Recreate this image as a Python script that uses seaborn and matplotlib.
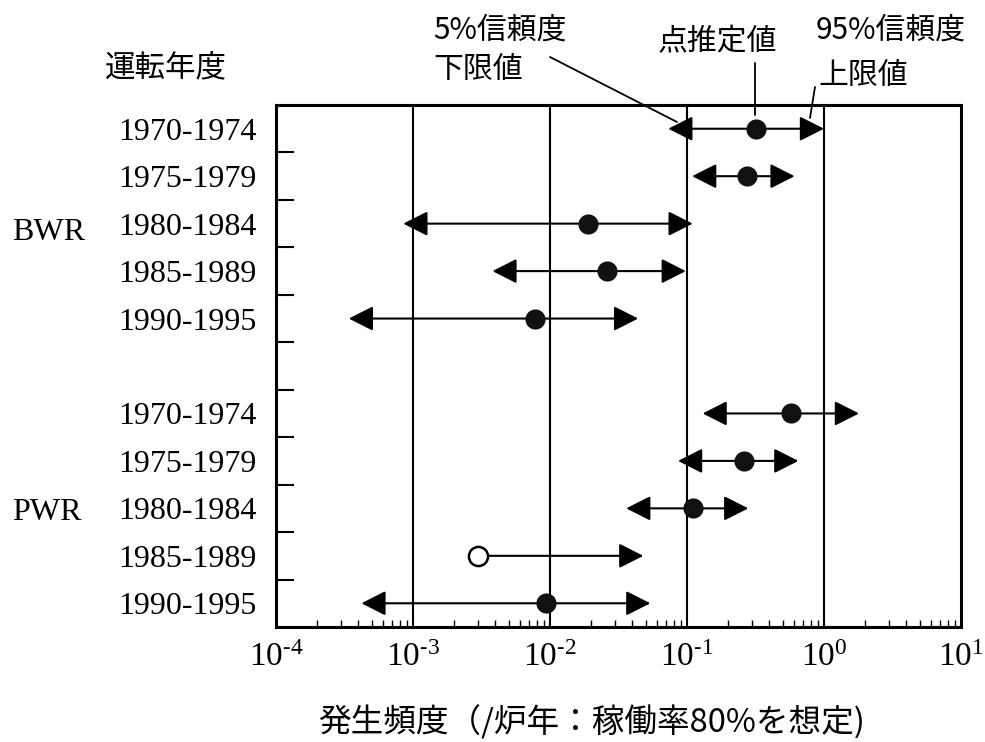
import numpy as np
import pandas as pd
import matplotlib
matplotlib.use("Agg")
import matplotlib.pyplot as plt
from matplotlib.lines import Line2D
from matplotlib.ticker import FixedLocator, LogLocator, NullFormatter
import seaborn as sns

# Operating periods (same for both reactor types)
periods = ["1970-1974", "1975-1979", "1980-1984", "1985-1989", "1990-1995"]

# BWR: 5% lower bound, point estimate, 95% upper bound (/reactor-year)
bwr_lower = [0.073, 0.109, 0.00085, 0.0038, 0.00034]
bwr_point = [0.32, 0.274, 0.019, 0.026, 0.0078]
bwr_upper = [1.0, 0.61, 0.11, 0.098, 0.044]

# PWR: 5% lower bound, point estimate, 95% upper bound (/reactor-year)
pwr_lower = [0.13, 0.086, 0.036, np.nan, 0.00042]
pwr_point = [0.57, 0.26, 0.11, 0.0030, 0.0094]
pwr_upper = [1.8, 0.65, 0.28, 0.048, 0.054]
pwr_open = [False, False, False, True, False]

x_ticks = [1e-4, 1e-3, 1e-2, 1e-1, 1e0, 1e1]
x_tick_labels = [r"$\mathregular{10^{\text{-}4}}$", r"$\mathregular{10^{\text{-}3}}$",
                 r"$\mathregular{10^{\text{-}2}}$", r"$\mathregular{10^{\text{-}1}}$",
                 r"$\mathregular{10^{0}}$", r"$\mathregular{10^{1}}$"]

bwr = pd.DataFrame({"period": periods, "lower": bwr_lower, "point": bwr_point,
                    "upper": bwr_upper, "open": [False] * 5, "row": np.arange(5)})
pwr = pd.DataFrame({"period": periods, "lower": pwr_lower, "point": pwr_point,
                    "upper": pwr_upper, "open": pwr_open, "row": np.arange(6, 11)})
df = pd.concat([bwr, pwr], ignore_index=True)

sns.set_theme(style="ticks")
plt.rcParams["font.family"] = ["Liberation Serif", "Noto Sans CJK JP"]
plt.rcParams["mathtext.fontset"] = "stix"
CJK = ["Noto Sans CJK JP", "DejaVu Sans"]

W, H = 985, 742
fig = plt.figure(figsize=(W / 100, H / 100), dpi=100)
fig.patch.set_facecolor("white")
ax = fig.add_axes([276 / W, 1 - 627 / H, 685 / W, 522 / H])
ax.set_facecolor("white")
ax.set_xscale("log")

# decade reference lines
for xv in [1e-3, 1e-2, 1e-1, 1e0]:
    ax.axvline(xv, color="black", lw=1.5, zorder=1)

# confidence-interval arrows from the point estimate to each bound
arrow_kw = dict(arrowstyle="-|>,head_length=0.75,head_width=0.38", mutation_scale=20,
                lw=1.5, color="black", shrinkA=0, shrinkB=0)
for _, r in df.iterrows():
    if not np.isnan(r["lower"]):
        ax.annotate("", xy=(r["lower"], r["row"]), xytext=(r["point"], r["row"]),
                    arrowprops=arrow_kw, zorder=3)
    ax.annotate("", xy=(r["upper"], r["row"]), xytext=(r["point"], r["row"]),
                arrowprops=arrow_kw, zorder=3)

sns.scatterplot(data=df[~df["open"]], x="point", y="row", s=210, color="#111111",
                edgecolor="#111111", linewidth=0, zorder=5, ax=ax, legend=False)
sns.scatterplot(data=df[df["open"]], x="point", y="row", s=190, color="white",
                edgecolor="black", linewidth=1.8, zorder=5, ax=ax, legend=False)

ax.set_xlim(1e-4, 1e1)
ax.set_ylim(10.5, -0.5)
ax.set_xlabel("")
ax.set_ylabel("")

ax.set_xticks(x_ticks)
ax.set_xticklabels(x_tick_labels)
ax.xaxis.set_minor_locator(LogLocator(base=10, subs=np.arange(2, 10)))
ax.xaxis.set_minor_formatter(NullFormatter())
ax.set_yticks(df["row"].tolist())
ax.set_yticklabels(df["period"].tolist())
ax.yaxis.set_minor_locator(FixedLocator(np.arange(0.5, 10, 1.0)))

ax.tick_params(axis="x", which="major", length=0, pad=11, labelsize=24, colors="black")
ax.tick_params(axis="x", which="minor", direction="in", length=5, width=1.0,
               bottom=True, top=False, color="black")
ax.tick_params(axis="y", which="major", length=0, pad=14, labelsize=23, colors="black")
ax.tick_params(axis="y", which="minor", direction="in", length=13, width=1.5,
               left=True, right=False, color="black")
for sp in ax.spines.values():
    sp.set_visible(True)
    sp.set_color("black")
    sp.set_linewidth(2.2)


def ftext(px, py, s, ha="left", **kw):
    fig.text(px / W, 1 - py / H, s, ha=ha, va="center", color="black", **kw)


ftext(105, 68, "運転年度", family=CJK, fontsize=22)
ftext(12, 233, "BWR", family=["Liberation Serif"], fontsize=23)
ftext(12, 512, "PWR", family=["Liberation Serif"], fontsize=23)
ftext(433, 30, "5%信頼度", family=CJK, fontsize=21.5)
ftext(433, 70, "下限値", family=CJK, fontsize=21.5)
ftext(717, 42, "点推定値", ha="center", family=CJK, fontsize=21.5)
ftext(816, 30, "95%信頼度", family=CJK, fontsize=21.5)
ftext(818, 75, "上限値", family=CJK, fontsize=21.5)
ftext(318, 722, "発生頻度（/炉年：稼働率80%を想定)", family=CJK, fontsize=23.5)

# leader lines from the callout labels to the first interval
for (x1, y1), (x2, y2) in [((550, 57), (677, 122)), ((755, 63), (755, 115)),
                           ((815, 87), (810, 118))]:
    fig.add_artist(Line2D([x1 / W, x2 / W], [1 - y1 / H, 1 - y2 / H],
                          transform=fig.transFigure, color="black", lw=1.3))

fig.savefig("out.png", dpi=100)
